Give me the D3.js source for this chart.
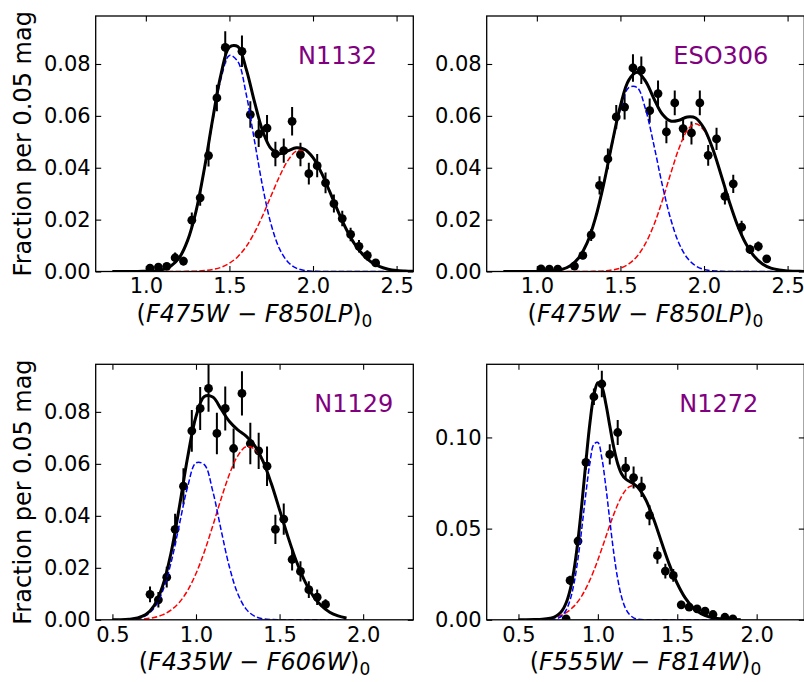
<!DOCTYPE html>
<html>
<head>
<meta charset="utf-8">
<script src="https://cdn.jsdelivr.net/npm/d3@7"></script>
<style>
  body { margin: 0; background: #fff; }
  svg text { font-family: "DejaVu Sans", sans-serif; }
</style>
</head>
<body>
<svg id="fig" width="804" height="682"></svg>
<script>
// Colour distributions of four clusters: binned fractions with errors,
// plus the two-component model (blue, red) and their sum (black).

// ---- N1132 ----
var n1132X = [1.025, 1.075, 1.125, 1.175, 1.225, 1.275, 1.325, 1.375, 1.425, 1.475, 1.575, 1.625, 1.675, 1.725, 1.775, 1.825, 1.875, 1.925, 1.975, 2.025, 2.075, 2.125, 2.175, 2.225, 2.275, 2.325, 2.375];
var n1132Y = [0.0013, 0.0017, 0.0020, 0.0053, 0.0040, 0.0198, 0.0284, 0.0447, 0.0669, 0.0864, 0.0849, 0.0605, 0.0530, 0.0553, 0.0453, 0.0466, 0.0579, 0.0451, 0.0377, 0.0408, 0.0342, 0.0262, 0.0204, 0.0143, 0.0097, 0.0062, 0.0033];
var n1132Err = [0.0010, 0.0012, 0.0013, 0.0020, 0.0017, 0.0029, 0.0031, 0.0042, 0.0051, 0.0062, 0.0061, 0.0051, 0.0050, 0.0050, 0.0047, 0.0047, 0.0055, 0.0045, 0.0042, 0.0045, 0.0040, 0.0035, 0.0030, 0.0026, 0.0024, 0.0020, 0.0015];

// ---- ESO306 ----
var eso306X = [1.025, 1.075, 1.125, 1.225, 1.275, 1.325, 1.375, 1.425, 1.475, 1.525, 1.575, 1.625, 1.675, 1.725, 1.775, 1.825, 1.875, 1.925, 1.975, 2.025, 2.075, 2.125, 2.175, 2.225, 2.275, 2.325, 2.375];
var eso306Y = [0.0010, 0.0009, 0.0009, 0.0021, 0.0062, 0.0141, 0.0332, 0.0434, 0.0596, 0.0634, 0.0785, 0.0776, 0.0620, 0.0686, 0.0538, 0.0650, 0.0551, 0.0534, 0.0650, 0.0448, 0.0511, 0.0290, 0.0338, 0.0171, 0.0085, 0.0097, 0.0049];
var eso306Err = [0.0006, 0.0006, 0.0006, 0.0009, 0.0015, 0.0023, 0.0035, 0.0040, 0.0046, 0.0048, 0.0053, 0.0053, 0.0047, 0.0050, 0.0044, 0.0048, 0.0045, 0.0044, 0.0048, 0.0040, 0.0043, 0.0032, 0.0035, 0.0025, 0.0018, 0.0019, 0.0013];

// model curves for the top row, sampled on this grid
var topGrid = [0.80, 0.85, 0.90, 0.95, 1.00, 1.05, 1.10, 1.15, 1.20, 1.25, 1.30, 1.35, 1.40, 1.45, 1.50, 1.55, 1.60, 1.65, 1.70, 1.75, 1.80, 1.85, 1.90, 1.95, 2.00, 2.05, 2.10, 2.15, 2.20, 2.25, 2.30, 2.35, 2.40, 2.45, 2.50, 2.55, 2.60];
var n1132Blue = [0, 0, 0, 0, 0.00005, 0.0002, 0.0007, 0.0021, 0.0053, 0.0119, 0.0231, 0.0393, 0.0580, 0.0745, 0.0833, 0.0810, 0.0685, 0.0504, 0.0323, 0.0180, 0.0087, 0.0037, 0.0013, 0.0004, 0.0001, 0, 0, 0, 0, 0, 0, 0, 0, 0, 0, 0, 0];
var n1132Red = [0, 0, 0, 0, 0, 0, 0, 0, 0.00002, 0.00005, 0.00014, 0.00034, 0.00078, 0.0016, 0.0032, 0.0057, 0.0096, 0.0150, 0.0217, 0.0293, 0.0367, 0.0428, 0.0464, 0.0467, 0.0438, 0.0381, 0.0308, 0.0232, 0.0162, 0.0105, 0.0064, 0.0036, 0.0019, 0.0009, 0.0004, 0.0002, 0.0001];
var n1132Total = [0, 0, 0, 0, 0.0001, 0.0002, 0.0007, 0.0021, 0.0053, 0.0120, 0.0232, 0.0396, 0.0588, 0.0761, 0.0865, 0.0867, 0.0781, 0.0654, 0.0540, 0.0473, 0.0454, 0.0465, 0.0477, 0.0471, 0.0439, 0.0381, 0.0308, 0.0232, 0.0162, 0.0105, 0.0064, 0.0036, 0.0019, 0.0009, 0.0004, 0.0002, 0.0001];
var eso306Blue = [0, 0, 0, 0, 0, 0.0001, 0.0003, 0.0008, 0.0022, 0.0052, 0.0109, 0.0204, 0.0335, 0.0488, 0.0626, 0.0709, 0.0709, 0.0626, 0.0488, 0.0335, 0.0204, 0.0109, 0.0052, 0.0022, 0.0008, 0.0003, 0.0001, 0, 0, 0, 0, 0, 0, 0, 0, 0, 0];
var eso306Red = [0, 0, 0, 0, 0, 0, 0, 0, 0, 0, 0.00002, 0.0001, 0.0002, 0.0006, 0.0013, 0.0029, 0.0059, 0.0108, 0.0179, 0.0272, 0.0376, 0.0474, 0.0544, 0.0570, 0.0544, 0.0474, 0.0376, 0.0272, 0.0179, 0.0108, 0.0059, 0.0029, 0.0013, 0.0006, 0.0002, 0.0001, 0];
var eso306Total = [0, 0, 0, 0, 0, 0.0001, 0.0003, 0.0008, 0.0022, 0.0052, 0.0109, 0.0205, 0.0337, 0.0494, 0.0639, 0.0738, 0.0768, 0.0734, 0.0667, 0.0607, 0.0580, 0.0583, 0.0596, 0.0592, 0.0552, 0.0477, 0.0377, 0.0272, 0.0179, 0.0108, 0.0059, 0.0029, 0.0013, 0.0006, 0.0002, 0.0001, 0];

// ---- N1129 ----
var n1129X = [0.725, 0.775, 0.825, 0.875, 0.925, 0.975, 1.025, 1.075, 1.125, 1.175, 1.225, 1.275, 1.325, 1.375, 1.425, 1.475, 1.525, 1.575, 1.625, 1.675, 1.725, 1.775];
var n1129Y = [0.0098, 0.0077, 0.0164, 0.0348, 0.0514, 0.0727, 0.0813, 0.0890, 0.0717, 0.0813, 0.0659, 0.0871, 0.0678, 0.0650, 0.0591, 0.0348, 0.0387, 0.0232, 0.0186, 0.0116, 0.0087, 0.0059];
var n1129Err = [0.0030, 0.0030, 0.0040, 0.0060, 0.0069, 0.0080, 0.0083, 0.0090, 0.0080, 0.0085, 0.0077, 0.0085, 0.0080, 0.0070, 0.0076, 0.0056, 0.0060, 0.0042, 0.0039, 0.0032, 0.0030, 0.0020];
var n1129Grid = [0.50, 0.55, 0.60, 0.65, 0.70, 0.75, 0.80, 0.85, 0.90, 0.95, 1.00, 1.05, 1.10, 1.15, 1.20, 1.25, 1.30, 1.35, 1.40, 1.45, 1.50, 1.55, 1.60, 1.65, 1.70, 1.75, 1.80, 1.85, 1.90];
var n1129Blue = [0, 0, 0.0001, 0.0005, 0.0016, 0.0046, 0.0110, 0.0218, 0.0365, 0.0512, 0.0604, 0.0597, 0.0496, 0.0346, 0.0203, 0.0100, 0.0041, 0.0014, 0.0004, 0.0001, 0, 0, 0, 0, 0, 0, 0, 0, 0];
var n1129Red = [0, 0, 0.0001, 0.0002, 0.0004, 0.0009, 0.0019, 0.0037, 0.0067, 0.0113, 0.0178, 0.0262, 0.0361, 0.0465, 0.0560, 0.0631, 0.0666, 0.0657, 0.0607, 0.0524, 0.0423, 0.0320, 0.0226, 0.0150, 0.0093, 0.0054, 0.0029, 0.0015, 0.0007];
var n1129Total = [0, 0, 0.0002, 0.0007, 0.0020, 0.0055, 0.0129, 0.0255, 0.0432, 0.0625, 0.0782, 0.0859, 0.0857, 0.0811, 0.0763, 0.0731, 0.0707, 0.0671, 0.0611, 0.0525, 0.0423, 0.0320, 0.0226, 0.0150, 0.0093, 0.0054, 0.0029, 0.0015, 0.0007];

// ---- N1272 ----
var n1272X = [0.800, 0.825, 0.875, 0.925, 0.975, 1.025, 1.075, 1.125, 1.175, 1.225, 1.275, 1.325, 1.375, 1.425, 1.475, 1.525, 1.575, 1.625, 1.675, 1.725, 1.800, 1.850];
var n1272Y = [0.0005, 0.0216, 0.0432, 0.0863, 0.1223, 0.1293, 0.0907, 0.1027, 0.0833, 0.0780, 0.0729, 0.0573, 0.0353, 0.0267, 0.0243, 0.0082, 0.0069, 0.0060, 0.0047, 0.0029, 0.0014, 0.0005];
var n1272Err = [0.0005, 0.0025, 0.0030, 0.0040, 0.0045, 0.0073, 0.0055, 0.0069, 0.0060, 0.0060, 0.0055, 0.0055, 0.0046, 0.0040, 0.0035, 0.0022, 0.0020, 0.0018, 0.0016, 0.0013, 0.0009, 0.0005];
var n1272Grid = [0.50, 0.55, 0.60, 0.65, 0.70, 0.725, 0.75, 0.775, 0.80, 0.825, 0.85, 0.875, 0.90, 0.925, 0.95, 0.975, 1.00, 1.025, 1.05, 1.075, 1.10, 1.125, 1.15, 1.175, 1.20, 1.225, 1.25, 1.30, 1.35, 1.40, 1.45, 1.50, 1.55, 1.60, 1.65, 1.70, 1.75, 1.80, 1.85, 1.90];
var n1272Blue = [0, 0, 0, 0, 0.0001, 0.0003, 0.0009, 0.0023, 0.0053, 0.0108, 0.0200, 0.0336, 0.0509, 0.0696, 0.0861, 0.0962, 0.0972, 0.0887, 0.0732, 0.0546, 0.0368, 0.0224, 0.0123, 0.0061, 0.0028, 0.0011, 0.0004, 0, 0, 0, 0, 0, 0, 0, 0, 0, 0, 0, 0, 0];
var n1272Red = [0, 0, 0.0001, 0.0003, 0.0008, 0.0012, 0.0019, 0.0027, 0.0039, 0.0055, 0.0075, 0.0101, 0.0133, 0.0172, 0.0218, 0.0270, 0.0328, 0.0390, 0.0454, 0.0518, 0.0578, 0.0632, 0.0677, 0.0711, 0.0730, 0.0735, 0.0724, 0.0661, 0.0555, 0.0428, 0.0304, 0.0199, 0.0120, 0.0066, 0.0034, 0.0016, 0.0007, 0.0003, 0.0001, 0];
var n1272Total = [0, 0, 0.0001, 0.0003, 0.0009, 0.0015, 0.0028, 0.0050, 0.0092, 0.0163, 0.0275, 0.0437, 0.0642, 0.0868, 0.1079, 0.1232, 0.1300, 0.1277, 0.1186, 0.1064, 0.0946, 0.0856, 0.0800, 0.0772, 0.0758, 0.0746, 0.0728, 0.0661, 0.0555, 0.0428, 0.0304, 0.0199, 0.0120, 0.0066, 0.0034, 0.0016, 0.0007, 0.0003, 0.0001, 0];

var topTicksX = [1.0, 1.5, 2.0, 2.5];
var bottomTicksX = [0.5, 1.0, 1.5, 2.0];
var fracTicks = [0, 0.02, 0.04, 0.06, 0.08];
var n1272TicksY = [0, 0.05, 0.10];

var panels = [
  { name: 'N1132', left: 95.7, top: 16, xlim: [0.7, 2.6], ylim: [0, 0.0985],
    px: n1132X, py: n1132Y, pe: n1132Err, grid: topGrid,
    blue: n1132Blue, red: n1132Red, total: n1132Total,
    xticks: topTicksX, yticks: fracTicks, yfmt: '.2f', labelX: 0.886,
    xlab: ['F475W', 'F850LP'], ylabel: true },
  { name: 'ESO306', left: 486.7, top: 16, xlim: [0.7, 2.6], ylim: [0, 0.0985],
    px: eso306X, py: eso306Y, pe: eso306Err, grid: topGrid,
    blue: eso306Blue, red: eso306Red, total: eso306Total,
    xticks: topTicksX, yticks: fracTicks, yfmt: '.2f', labelX: 0.887,
    xlab: ['F475W', 'F850LP'], ylabel: false },
  { name: 'N1129', left: 95.7, top: 364.3, xlim: [0.4, 2.3], ylim: [0, 0.0983],
    px: n1129X, py: n1129Y, pe: n1129Err, grid: n1129Grid,
    blue: n1129Blue, red: n1129Red, total: n1129Total,
    xticks: bottomTicksX, yticks: fracTicks, yfmt: '.2f', labelX: 0.937,
    xlab: ['F435W', 'F606W'], ylabel: true },
  { name: 'N1272', left: 486.7, top: 364.3, xlim: [0.3, 2.3], ylim: [0, 0.1401],
    px: n1272X, py: n1272Y, pe: n1272Err, grid: n1272Grid,
    blue: n1272Blue, red: n1272Red, total: n1272Total,
    xticks: bottomTicksX, yticks: n1272TicksY, yfmt: '.2f', labelX: 0.855,
    xlab: ['F555W', 'F814W'], ylabel: false }
];

var W = 317.6, H = 255.5;
var TICK = 5.5;
var svg = d3.select('#fig');

panels.forEach(function(p, i) {
  var g = svg.append('g').attr('transform', 'translate(' + p.left + ',' + p.top + ')');
  var x = d3.scaleLinear().domain(p.xlim).range([0, W]);
  var y = d3.scaleLinear().domain(p.ylim).range([H, 0]);

  g.append('clipPath').attr('id', 'clip' + i)
    .append('rect').attr('width', W).attr('height', H);
  var plot = g.append('g').attr('clip-path', 'url(#clip' + i + ')');

  var pts = p.px.map(function(v, k) { return { x: v, y: p.py[k], e: p.pe[k] }; });

  // error bars and points
  plot.selectAll('line.err').data(pts).enter().append('line')
    .attr('class', 'err')
    .attr('x1', function(d) { return x(d.x); })
    .attr('x2', function(d) { return x(d.x); })
    .attr('y1', function(d) { return y(d.y - d.e); })
    .attr('y2', function(d) { return y(d.y + d.e); })
    .attr('stroke', '#000').attr('stroke-width', 2);
  plot.selectAll('circle').data(pts).enter().append('circle')
    .attr('cx', function(d) { return x(d.x); })
    .attr('cy', function(d) { return y(d.y); })
    .attr('r', 4.4).attr('fill', '#000');

  // model curves
  var line = d3.line()
    .x(function(d) { return x(d[0]); })
    .y(function(d) { return y(d[1]); })
    .curve(d3.curveCatmullRom);
  function series(vals) { return p.grid.map(function(v, k) { return [v, vals[k]]; }); }

  plot.append('path').attr('d', line(series(p.red)))
    .attr('fill', 'none').attr('stroke', 'red').attr('stroke-width', 1.5)
    .attr('stroke-dasharray', '5.5,2.4');
  plot.append('path').attr('d', line(series(p.blue)))
    .attr('fill', 'none').attr('stroke', 'blue').attr('stroke-width', 1.5)
    .attr('stroke-dasharray', '5.5,2.4');
  plot.append('path').attr('d', line(series(p.total)))
    .attr('fill', 'none').attr('stroke', '#000').attr('stroke-width', 3);

  // axes, ticks pointing inwards on all four sides
  var fx = d3.format('.1f'), fy = d3.format(p.yfmt);
  var ax = g.append('g').attr('transform', 'translate(0,' + H + ')')
    .call(d3.axisBottom(x).tickValues(p.xticks).tickFormat(fx).tickSize(-TICK).tickPadding(7));
  var ay = g.append('g')
    .call(d3.axisLeft(y).tickValues(p.yticks).tickFormat(fy).tickSize(-TICK).tickPadding(5));
  g.append('g').call(d3.axisTop(x).tickValues(p.xticks).tickFormat('').tickSize(-TICK));
  g.append('g').attr('transform', 'translate(' + W + ',0)')
    .call(d3.axisRight(y).tickValues(p.yticks).tickFormat('').tickSize(-TICK));
  g.selectAll('.domain').remove();
  g.selectAll('.tick line').attr('stroke', '#000').attr('stroke-width', 1.1);
  g.selectAll('.tick text').attr('font-size', 21).attr('fill', '#000')
    .style('font-family', '"DejaVu Sans", sans-serif');

  g.append('rect').attr('width', W).attr('height', H)
    .attr('fill', 'none').attr('stroke', '#000').attr('stroke-width', 1.3);

  // cluster name
  g.append('text')
    .attr('x', p.labelX * W).attr('y', 0.188 * H)
    .attr('text-anchor', 'end').attr('font-size', 24).attr('fill', 'purple')
    .text(p.name);

  // x label (F...W - F...)_0
  var xt = g.append('text')
    .attr('x', W / 2).attr('y', H + 50)
    .attr('text-anchor', 'middle').attr('font-size', 24).attr('fill', '#000');
  xt.append('tspan').text('(');
  xt.append('tspan').attr('font-style', 'italic').text(p.xlab[0]);
  xt.append('tspan').text(' \u2212 ');
  xt.append('tspan').attr('font-style', 'italic').text(p.xlab[1]);
  xt.append('tspan').text(')');
  xt.append('tspan').attr('font-size', 17).attr('dy', 5).text('0');

  if (p.ylabel) {
    g.append('text')
      .attr('transform', 'translate(' + (31 - p.left) + ',' + (H / 2) + ') rotate(-90)')
      .attr('text-anchor', 'middle').attr('font-size', 24).attr('fill', '#000')
      .text('Fraction per 0.05 mag');
  }
});
</script>
</body>
</html>
